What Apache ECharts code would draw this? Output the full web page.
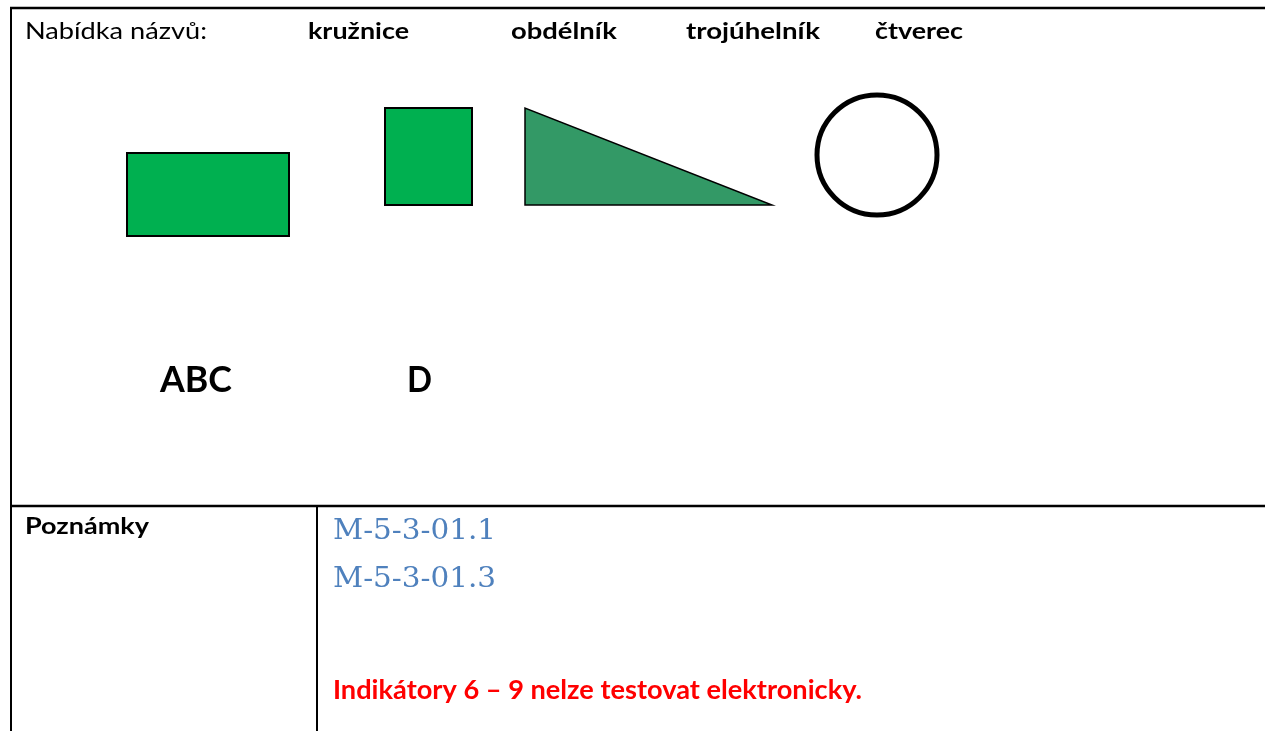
<!DOCTYPE html>
<html>
<head>
<meta charset="utf-8">
<script src="https://cdn.jsdelivr.net/npm/echarts@6/dist/echarts.min.js"></script>
<style>
html,body{margin:0;padding:0;background:#fff;}
#chart{width:1265px;height:731px;}
</style>
</head>
<body>
<div id="chart"></div>
<script>
// ---- data ----
const menuLabel = 'Nabídka názvů:';
const nameOptions = ['kružnice', 'obdélník', 'trojúhelník', 'čtverec'];
const shapeLabels = ['ABC', 'D'];
const notesLabel = 'Poznámky';
const noteCodes = ['M-5-3-01.1', 'M-5-3-01.3'];
const noteText = 'Indikátory 6 – 9 nelze testovat elektronicky.';

// shapes in drawing units (x right, y down)
const rectangles = [[127, 153, 289, 236], [385, 108, 472, 205]];
const triangle = [[525, 108], [525, 205], [772, 205]];
const circle = [877, 155, 60];

const chart = echarts.init(document.getElementById('chart'), null, {renderer: 'canvas'});

const sans = 'Lato, "Open Sans", sans-serif';
const serif = '"DejaVu Serif", "Liberation Serif", serif';

const measureCtx = document.createElement('canvas').getContext('2d');
// x: left edge, baseline: desired baseline, ascentRatio: distance top->baseline per px of font size
function textEl(text, size, weight, family, fill, x, baseline, targetWidth, ascentRatio) {
  const font = weight + ' ' + size + 'px ' + family;
  measureCtx.font = font;
  const w = measureCtx.measureText(text).width;
  return {
    type: 'text', x: x, y: baseline - Math.round(ascentRatio * size), scaleX: targetWidth / w,
    originX: 0, originY: 0,
    style: {text: text, font: font, fill: fill}
  };
}

const option = {
  backgroundColor: '#ffffff',
  animation: false,
  grid: {left: 0, right: 0, top: 0, bottom: 0},
  xAxis: {type: 'value', min: 0, max: 1265, show: false},
  yAxis: {type: 'value', min: 0, max: 731, inverse: true, show: false},
  series: [
    {
      type: 'custom',
      name: 'rects',
      data: rectangles,
      renderItem: function (params, api) {
        const p1 = api.coord([api.value(0), api.value(1)]);
        const p2 = api.coord([api.value(2), api.value(3)]);
        return {
          type: 'rect',
          shape: {x: p1[0], y: p1[1], width: p2[0] - p1[0], height: p2[1] - p1[1]},
          style: {fill: '#00B050', stroke: '#000', lineWidth: 2}
        };
      }
    },
    {
      type: 'custom',
      name: 'triangle',
      data: [triangle.flat()],
      renderItem: function (params, api) {
        const pts = [];
        for (let i = 0; i < 3; i++) pts.push(api.coord([api.value(2 * i), api.value(2 * i + 1)]));
        return {
          type: 'polygon',
          shape: {points: pts},
          style: {fill: '#339966', stroke: '#000', lineWidth: 1.5}
        };
      }
    },
    {
      type: 'custom',
      name: 'circle',
      data: [circle],
      renderItem: function (params, api) {
        const c = api.coord([api.value(0), api.value(1)]);
        const e = api.coord([api.value(0) + api.value(2), api.value(1)]);
        return {
          type: 'circle',
          shape: {cx: c[0], cy: c[1], r: e[0] - c[0]},
          style: {fill: '#fff', stroke: '#000', lineWidth: 5}
        };
      }
    }
  ],
  graphic: {
    elements: [
      // table lines
      {type: 'line', shape: {x1: 10, y1: 8, x2: 1265, y2: 8}, style: {stroke: '#000', lineWidth: 2.5}},
      {type: 'line', shape: {x1: 11, y1: 7, x2: 11, y2: 731}, style: {stroke: '#000', lineWidth: 2}},
      {type: 'line', shape: {x1: 10, y1: 506, x2: 1265, y2: 506}, style: {stroke: '#000', lineWidth: 2.5}},
      {type: 'line', shape: {x1: 317, y1: 506, x2: 317, y2: 731}, style: {stroke: '#000', lineWidth: 2}},
      // texts
      textEl(menuLabel, 23, 'normal', sans, '#000', 25, 40, 182, 0.865),
      textEl(nameOptions[0], 23, 'bold', sans, '#000', 308, 40, 101, 0.865),
      textEl(nameOptions[1], 23, 'bold', sans, '#000', 511, 40, 106, 0.865),
      textEl(nameOptions[2], 23, 'bold', sans, '#000', 686, 40, 134, 0.865),
      textEl(nameOptions[3], 23, 'bold', sans, '#000', 875, 40, 88, 0.865),
      textEl(shapeLabels[0], 37, 'bold', sans, '#000', 160, 394, 72, 0.865),
      textEl(shapeLabels[1], 37, 'bold', sans, '#000', 407, 394, 25, 0.865),
      textEl(notesLabel, 22, 'bold', sans, '#000', 25, 535, 124, 0.865),
      textEl(noteCodes[0], 28, 'normal', serif, '#4F81BD', 333, 540, 163, 0.79),
      textEl(noteCodes[1], 28, 'normal', serif, '#4F81BD', 333, 588, 163, 0.79),
      textEl(noteText, 26, 'bold', sans, '#FF0000', 333, 700, 529, 0.865)
    ]
  }
};
chart.setOption(option);
</script>
</body>
</html>
